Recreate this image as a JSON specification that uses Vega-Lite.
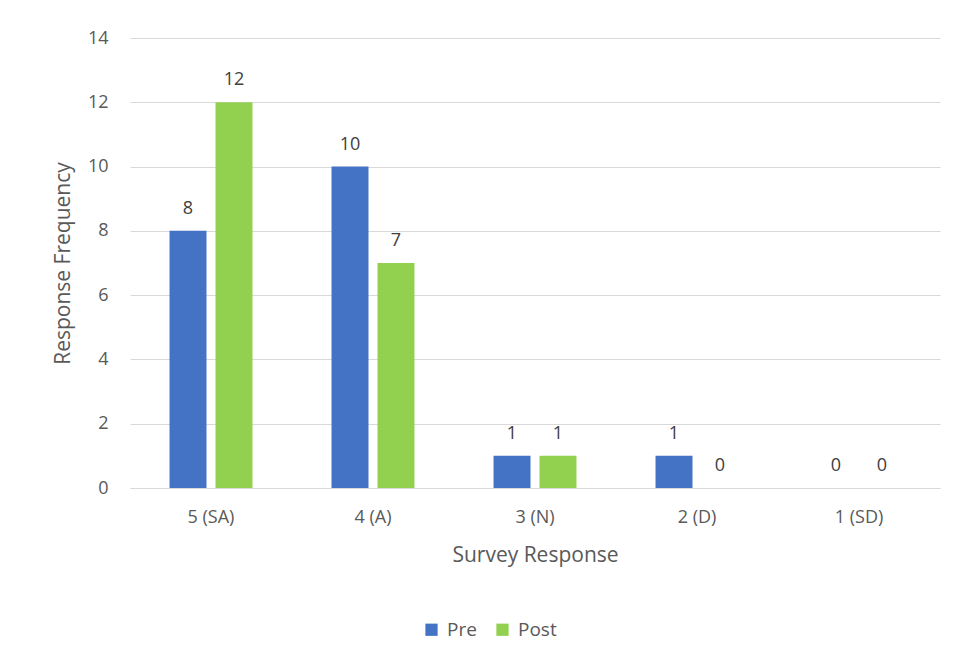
{
  "$schema": "https://vega.github.io/schema/vega-lite/v6.json",
  "width": 810,
  "height": 450,
  "autosize": {"type": "none"},
  "padding": {"left": 130, "top": 38, "right": 18, "bottom": 173},
  "background": "#ffffff",
  "config": {
    "view": {"stroke": null},
    "font": "Open Sans",
    "text": {"font": "Open Sans"}
  },
  "data": {
    "values": [
      {"response": "5 (SA)", "phase": "Pre", "count": 8},
      {"response": "5 (SA)", "phase": "Post", "count": 12},
      {"response": "4 (A)", "phase": "Pre", "count": 10},
      {"response": "4 (A)", "phase": "Post", "count": 7},
      {"response": "3 (N)", "phase": "Pre", "count": 1},
      {"response": "3 (N)", "phase": "Post", "count": 1},
      {"response": "2 (D)", "phase": "Pre", "count": 1},
      {"response": "2 (D)", "phase": "Post", "count": 0},
      {"response": "1 (SD)", "phase": "Pre", "count": 0},
      {"response": "1 (SD)", "phase": "Post", "count": 0}
    ]
  },
  "encoding": {
    "x": {
      "field": "response",
      "type": "nominal",
      "sort": ["5 (SA)", "4 (A)", "3 (N)", "2 (D)", "1 (SD)"],
      "scale": {"paddingInner": 0.488, "paddingOuter": 0.244},
      "axis": {
        "title": "Survey Response",
        "labelAngle": 0,
        "labelFontSize": 18,
        "labelColor": "#595959",
        "labelPadding": 20,
        "ticks": false,
        "domain": true,
        "domainColor": "#d9d9d9",
        "domainWidth": 1,
        "titleFontSize": 21,
        "titleFontWeight": "normal",
        "titleColor": "#595959",
        "titlePadding": 18
      }
    },
    "xOffset": {
      "field": "phase",
      "type": "nominal",
      "sort": ["Pre", "Post"],
      "scale": {"paddingInner": 0.196, "paddingOuter": 0}
    },
    "y": {
      "field": "count",
      "type": "quantitative",
      "scale": {"domain": [0, 14]},
      "axis": {
        "title": "Response Frequency",
        "values": [0, 2, 4, 6, 8, 10, 12, 14],
        "labelFontSize": 18,
        "labelColor": "#595959",
        "labelPadding": 22,
        "ticks": false,
        "domain": false,
        "gridColor": "#d9d9d9",
        "gridWidth": 1,
        "titleFontSize": 21,
        "titleFontWeight": "normal",
        "titleColor": "#595959",
        "titlePadding": 14
      }
    },
    "color": {
      "field": "phase",
      "type": "nominal",
      "sort": ["Pre", "Post"],
      "scale": {"domain": ["Pre", "Post"], "range": ["#4472C4", "#92D050"]},
      "legend": {
        "title": null,
        "orient": "none",
        "legendX": 292,
        "legendY": 582,
        "direction": "horizontal",
        "symbolType": "square",
        "symbolSize": 150,
        "symbolStrokeWidth": 0,
        "labelFontSize": 19,
        "labelColor": "#595959",
        "columnPadding": 16,
        "labelOffset": 6
      }
    }
  },
  "layer": [
    {"mark": {"type": "bar"}},
    {
      "mark": {"type": "text", "baseline": "alphabetic", "dy": -17, "fontSize": 18},
      "encoding": {
        "text": {"field": "count", "type": "quantitative"},
        "color": {"value": "#404040"}
      }
    }
  ]
}
